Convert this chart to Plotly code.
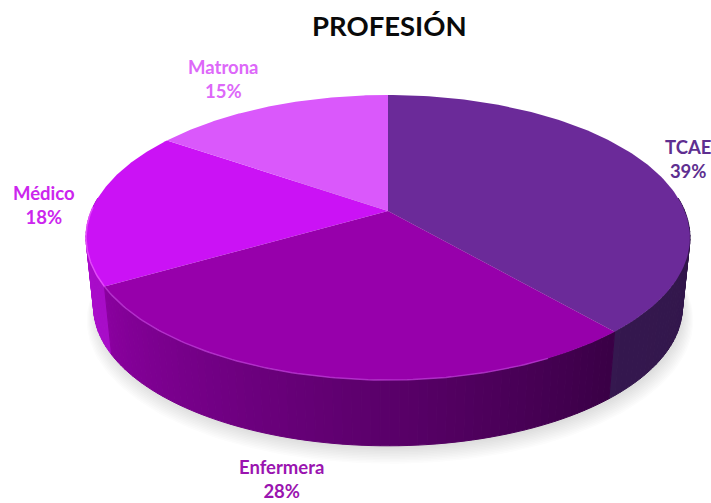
import numpy as np
import plotly.graph_objects as go

# Data
categories = ["TCAE", "Enfermera", "Médico", "Matrona"]
shares = [38.6, 28.1, 17.9, 15.4]
top_colors = ["#6B2A99", "#9700AB", "#CB12F5", "#DA58FB"]
label_colors = ["#5E2F90", "#9A14B0", "#CC26EE", "#DD68F9"]
wall_start = ["#2A1240", "#3A0046", "#A80CC8", "#B515D8"]
wall_end = ["#35184F", "#8A009F", "#B515D8", "#B515D8"]
label_pos = [(688, 159), (281, 479), (44, 205), (223, 79)]
title_text = "PROFESIÓN"

# Projection of the pie disc (perspective tilt)
W, H = 711, 503
CX, CY, RX, RY, K = 388, 211, 296.7, 137.6, 0.186
DROP, SHRINK = 70, 0.975


def project(theta, scale=1.0, dy=0.0, dx=0.0):
    u, v = np.sin(theta), -np.cos(theta)
    s = 1 / (1 - K * v)
    return CX + dx + scale * RX * u * s, CY + dy + scale * RY * v * s


def hex2rgb(c):
    return np.array([int(c[i:i + 2], 16) for i in (1, 3, 5)], float)


def mix(a, b, t):
    r = hex2rgb(a) * (1 - t) + hex2rgb(b) * t
    return "rgb(%d,%d,%d)" % tuple(r)


fig = go.Figure()


def poly(x, y, color, width=0.0):
    fig.add_trace(go.Scatter(x=x, y=y, mode="lines", fill="toself", fillcolor=color,
                             line=dict(color=color, width=width), hoverinfo="skip",
                             showlegend=False))


# Soft shadow below the pie
circle = np.linspace(0, 2 * np.pi, 241)
for i in range(12):
    sx, sy = project(circle, SHRINK * (1.03 - 0.0035 * i), DROP + 13 - i * 1.0, 2)
    poly(sx, sy, "rgba(60,60,60,0.014)")

# Angular extents of each slice
edges = np.radians(np.concatenate([[0], np.cumsum(shares)]) * 3.6)

# Side wall strips, back to front
strips = []
for i in range(len(shares)):
    a0, a1 = edges[i], edges[i + 1]
    n = max(2, int((a1 - a0) / np.radians(1.5)))
    cuts = np.linspace(a0, a1, n + 1)
    for j in range(n):
        t0, t1 = cuts[j], cuts[j + 1]
        if -np.cos((t0 + t1) / 2) < -0.1:
            continue
        strips.append((-np.cos((t0 + t1) / 2), t0, t1, mix(wall_start[i], wall_end[i], j / max(1, n - 1))))
strips.sort(key=lambda s: s[0])
for _, t0, t1, col in strips:
    tt = np.array([t0, t1])
    xa, ya = project(tt)
    xb, yb = project(tt, SHRINK, DROP)
    poly(np.r_[xa, xb[::-1], xa[0]], np.r_[ya, yb[::-1], ya[0]], col, 1.0)

# Top face wedges
for i in range(len(shares)):
    tt = np.linspace(edges[i], edges[i + 1], 120)
    x, y = project(tt)
    poly(np.r_[CX, x, CX], np.r_[CY, y, CY], top_colors[i])

# Light rim on the front edge
rim_tt = np.linspace(edges[1] + 0.25, edges[2], 100)
rx, ry = project(rim_tt)
fig.add_trace(go.Scatter(x=rx, y=ry, mode="lines", line=dict(color="rgba(190,60,215,0.75)", width=1.5),
                         hoverinfo="skip", showlegend=False))
rim_tt = np.linspace(edges[2], edges[2] + 0.55, 40)
rx, ry = project(rim_tt)
fig.add_trace(go.Scatter(x=rx, y=ry, mode="lines", line=dict(color="rgba(235,90,255,0.8)", width=1.5),
                         hoverinfo="skip", showlegend=False))

# Labels
annotations = [dict(x=389, y=25, text="<b>%s</b>" % title_text, showarrow=False, xref="x", yref="y",
                    font=dict(family="Lato", size=27.5, color="#0A0A0A"))]
for name, pct, col, (lx, ly) in zip(categories, shares, label_colors, label_pos):
    annotations.append(dict(x=lx, y=ly, text="<b>%s<br>%.0f%%</b>" % (name, pct), showarrow=False,
                            xref="x", yref="y", align="center",
                            font=dict(family="Lato", size=18.5, color=col)))

fig.update_layout(
    width=W, height=H, autosize=False, margin=dict(l=0, r=0, t=0, b=0),
    paper_bgcolor="white", plot_bgcolor="white", showlegend=False, annotations=annotations,
    xaxis=dict(range=[0, W], visible=False, fixedrange=True),
    yaxis=dict(range=[H, 0], visible=False, fixedrange=True),
)
fig.write_html("out.html", config=dict(displayModeBar=False),
               post_script="document.body.style.margin='0';document.body.style.overflow='hidden';")
